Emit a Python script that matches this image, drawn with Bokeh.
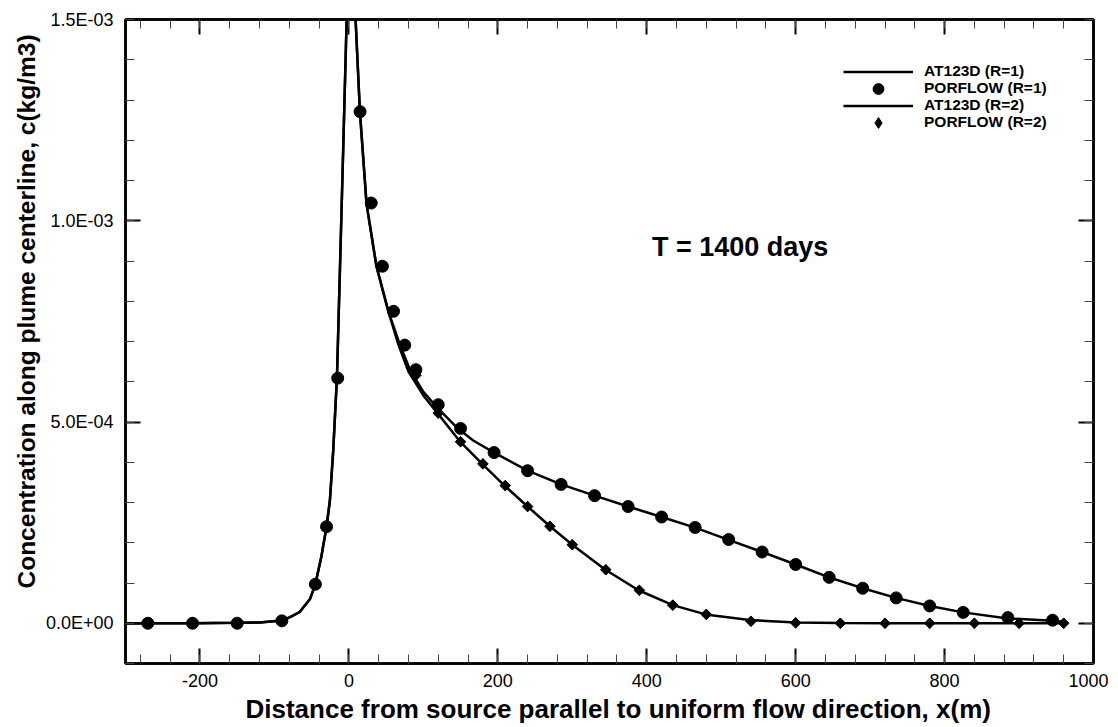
import numpy as np
from bokeh.plotting import figure
from bokeh.models import (Range1d, LinearAxis, FixedTicker, Legend, LegendItem,
                          Label, Title)
from bokeh.embed import file_html
from bokeh.resources import INLINE

# ---------------- data ----------------
at123d_r1_x = [-300, -270, -210, -150, -120, -90, -79, -66, -52, -45, -37, -30, -25.5,
               -21, -16, -12, -7.6, -3, 2, 9, 14.8, 23.7, 37, 53, 68.5, 82, 100, 118,
               144.5, 167, 195, 240, 285, 330, 375, 420, 465, 510, 555, 600, 645, 690,
               735, 780, 825, 885, 945, 960]
at123d_r1_c = [0.0, 0.0, 0.0, 0.001e-3, 0.002e-3, 0.0066e-3, 0.015e-3, 0.028e-3, 0.061e-3,
               0.097e-3, 0.165e-3, 0.240e-3, 0.305e-3, 0.43e-3, 0.612e-3, 0.88e-3, 1.18e-3,
               1.5e-3, 2.0e-3, 1.5e-3, 1.271e-3, 1.042e-3, 0.887e-3, 0.775e-3, 0.692e-3,
               0.630e-3, 0.575e-3, 0.537e-3, 0.487e-3, 0.454e-3, 0.424e-3, 0.379e-3,
               0.345e-3, 0.317e-3, 0.290e-3, 0.264e-3, 0.2376e-3, 0.207e-3, 0.177e-3,
               0.146e-3, 0.114e-3, 0.087e-3, 0.063e-3, 0.043e-3, 0.027e-3, 0.012e-3,
               0.006e-3, 0.004e-3]

at123d_r2_x = [-300, -270, -210, -150, -120, -90, -79, -66, -52, -45, -37, -30, -25.5,
               -21, -16, -12, -7.6, -3, 2, 9, 14.8, 23.7, 37, 53, 66, 80, 100, 119,
               149.5, 179, 209, 240, 270, 300, 344.5, 389, 435, 479, 538, 600, 660, 720,
               780, 840, 900, 960]
at123d_r2_c = [0.0, 0.0, 0.0, 0.001e-3, 0.002e-3, 0.0066e-3, 0.015e-3, 0.028e-3, 0.061e-3,
               0.097e-3, 0.165e-3, 0.240e-3, 0.305e-3, 0.43e-3, 0.612e-3, 0.88e-3, 1.18e-3,
               1.5e-3, 2.0e-3, 1.5e-3, 1.271e-3, 1.042e-3, 0.887e-3, 0.775e-3, 0.695e-3,
               0.625e-3, 0.566e-3, 0.522e-3, 0.451e-3, 0.396e-3, 0.342e-3, 0.290e-3,
               0.241e-3, 0.195e-3, 0.133e-3, 0.082e-3, 0.045e-3, 0.022e-3, 0.008e-3,
               0.002e-3, 0.0005e-3, 0.0, 0.0, 0.0, 0.0, 0.0]

porflow_r1_x = [-270, -210, -150, -90, -45, -30, -15, 15, 30, 45, 60, 75, 90, 120, 150,
                195, 240, 285, 330, 375, 420, 465, 510, 555, 600, 645, 690, 735, 780,
                825, 885, 945]
porflow_r1_c = [0.0, 0.0, 0.0, 0.006e-3, 0.097e-3, 0.240e-3, 0.609e-3, 1.271e-3, 1.044e-3,
                0.887e-3, 0.775e-3, 0.691e-3, 0.630e-3, 0.543e-3, 0.484e-3, 0.424e-3,
                0.379e-3, 0.345e-3, 0.317e-3, 0.290e-3, 0.264e-3, 0.238e-3, 0.208e-3,
                0.177e-3, 0.146e-3, 0.114e-3, 0.087e-3, 0.063e-3, 0.043e-3, 0.027e-3,
                0.014e-3, 0.0075e-3]

porflow_r2_x = [90, 120, 150, 180, 210, 240, 270, 300, 345, 390, 435, 480, 540, 600, 660,
                720, 780, 840, 900, 960]
porflow_r2_c = [0.616e-3, 0.522e-3, 0.451e-3, 0.396e-3, 0.342e-3, 0.290e-3, 0.241e-3,
                0.195e-3, 0.133e-3, 0.082e-3, 0.045e-3, 0.022e-3, 0.005e-3, 0.001e-3,
                0.0, 0.0, 0.0, 0.0, 0.0, 0.0]

x_ticks = [-200, 0, 200, 400, 600, 800, 1000]
x_tick_labels = ["-200", "0", "200", "400", "600", "800", "1000"]
x_minor = [-280, -240, -200, -160, -120, -80, -40, 0, 40, 80, 120, 160, 200, 240, 280,
           320, 360, 400, 440, 480, 520, 560, 600, 640, 680, 720, 760, 800, 840, 880,
           920, 960, 1000]
y_ticks = [0.0, 5e-4, 1e-3, 1.5e-3]
y_tick_labels = ["0.0E+00", "5.0E-04", "1.0E-03", "1.5E-03"]
y_minor = [-1e-4, 0.0, 1e-4, 2e-4, 3e-4, 4e-4, 5e-4, 6e-4, 7e-4, 8e-4, 9e-4, 1e-3,
           1.1e-3, 1.2e-3, 1.3e-3, 1.4e-3, 1.5e-3]

legend_labels = ["AT123D (R=1)", "PORFLOW (R=1)", "AT123D (R=2)", "PORFLOW (R=2)"]
annotation_text = "T = 1400 days"
x_title = "Distance from source parallel to uniform flow direction, x(m)"
y_title = "Concentration along plume centerline, c(kg/m3)"

# ---------------- figure ----------------
FONT = "Liberation Sans"
p = figure(frame_width=968, frame_height=644,
           min_border_left=125, min_border_top=19, min_border_right=15,
           min_border_bottom=40,
           x_range=Range1d(-300, 1000), y_range=Range1d(-1e-4, 1.5e-3),
           x_axis_type=None, y_axis_type=None,
           output_backend="svg", toolbar_location=None)
p.outline_line_color = "black"
p.outline_line_width = 2.5
p.background_fill_color = "white"
p.border_fill_color = "white"


def style_axis(ax, ticks, minor, labels, show):
    ax.ticker = FixedTicker(ticks=ticks, minor_ticks=minor)
    ax.major_tick_in = 15
    ax.major_tick_out = 0
    ax.minor_tick_in = 9
    ax.minor_tick_out = 0
    ax.axis_line_width = 2.5
    ax.axis_line_color = "black"
    ax.major_tick_line_width = 2
    ax.minor_tick_line_width = 1
    ax.major_tick_line_color = "black"
    ax.minor_tick_line_color = "#444444"
    ax.major_label_text_font = FONT
    ax.major_label_text_font_size = "18px"
    ax.major_label_text_color = "black"
    if show:
        ax.major_label_overrides = {t: l for t, l in zip(ticks, labels)}
    else:
        ax.major_label_overrides = {t: "" for t in ticks}
        ax.major_label_standoff = 0


xb = LinearAxis()
style_axis(xb, x_ticks, x_minor, x_tick_labels, True)
xb.major_label_standoff = 10
p.add_layout(xb, "below")

xt = LinearAxis()
style_axis(xt, x_ticks, x_minor, x_tick_labels, False)
p.add_layout(xt, "above")

yl = LinearAxis()
style_axis(yl, y_ticks, y_minor, y_tick_labels, True)
yl.major_label_standoff = 12
p.add_layout(yl, "left")

yr = LinearAxis()
style_axis(yr, y_ticks, y_minor, y_tick_labels, False)
p.add_layout(yr, "right")

p.add_layout(Title(text=x_title, text_font=FONT, text_font_style="bold",
                   text_font_size="26px", text_color="black", align="left",
                   offset=120, standoff=4), "below")
p.add_layout(Title(text=y_title, text_font=FONT, text_font_style="bold",
                   text_font_size="24.5px", text_color="black", align="left",
                   offset=75, standoff=6), "left")

# ---------------- glyphs ----------------
l1 = p.line(at123d_r1_x, at123d_r1_c, line_color="black", line_width=2.5)
l2 = p.line(at123d_r2_x, at123d_r2_c, line_color="black", line_width=2.5)
# diamond-shaped key for the legend; drawn underneath (and fully covered by)
# the rotated-square markers of the same series
m2_key = p.scatter(porflow_r2_x, porflow_r2_c, marker="diamond", size=10, color="black")
m2 = p.scatter(porflow_r2_x, porflow_r2_c, marker="square", angle=np.pi / 4,
               size=7.5, color="black")
m1 = p.scatter(porflow_r1_x, porflow_r1_c, marker="circle", size=12, color="black")

# one single-row legend per entry, so that the symbols can be drawn full size
legend_renderers = [l1, m1, l2, m2_key]
row_centres = [71, 88, 105, 122]   # page pixels of the reference rows
frame_bottom = 663
for lab, rend, yc in zip(legend_labels, legend_renderers, row_centres):
    lg = Legend(items=[LegendItem(label=lab, renderers=[rend])],
                location=(718, frame_bottom - (yc + 13.5)))
    lg.padding = 0
    lg.margin = 0
    lg.spacing = 0
    lg.glyph_width = 70
    lg.glyph_height = 27
    lg.label_height = 27
    lg.label_standoff = 11
    lg.label_text_font = FONT
    lg.label_text_font_style = "bold"
    lg.label_text_font_size = "15.5px"
    lg.label_text_color = "black"
    lg.border_line_color = None
    lg.background_fill_alpha = 0
    p.add_layout(lg)

p.add_layout(Label(x=407, y=0.936e-3, text=annotation_text, text_font=FONT,
                   text_font_style="bold", text_font_size="27px",
                   text_color="black", text_baseline="alphabetic"))

open("out.html", "w").write(file_html(p, INLINE))
